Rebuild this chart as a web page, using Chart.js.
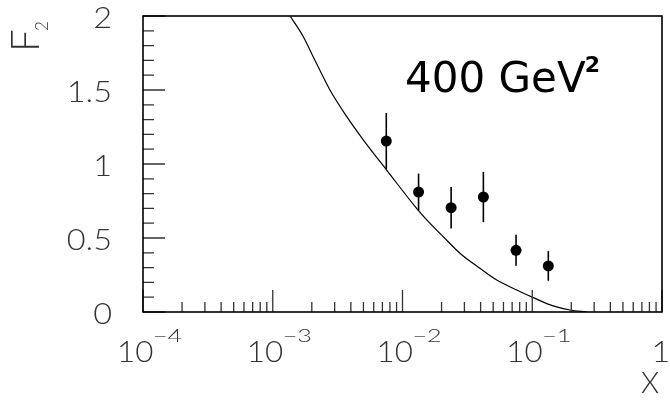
<!DOCTYPE html>
<html>
<head>
<meta charset="utf-8">
<script src="https://cdn.jsdelivr.net/npm/chart.js@4.4.1/dist/chart.umd.min.js"></script>
<style>
  body { margin: 0; background: #fff; }
  #wrap { width: 670px; height: 402px; }
</style>
</head>
<body>
<div id="wrap"><canvas id="f2chart" width="670" height="402"></canvas></div>
<script>
// measured points (x, F2) with symmetric errors
const xPoints = [0.0075, 0.0133, 0.0237, 0.042, 0.075, 0.133]
const f2Values = [1.155, 0.81, 0.705, 0.777, 0.417, 0.311]
const f2Errors = [0.19, 0.125, 0.14, 0.17, 0.105, 0.10]

// model curve
const curveX = [0.00136, 0.00172, 0.00205, 0.00276, 0.00372, 0.005, 0.00755, 0.01285, 0.01538, 0.0206, 0.0277, 0.0395, 0.0532, 0.0759, 0.102, 0.145, 0.195, 0.263]
const curveY = [2.0, 1.86, 1.725, 1.5, 1.32, 1.162, 0.959, 0.70, 0.622, 0.509, 0.397, 0.295, 0.216, 0.149, 0.097, 0.041, 0.0135, 0]

const yTicks = [0, 0.5, 1, 1.5, 2]
const yTickLabels = ['0', '0.5', '1', '1.5', '2']
const xDecades = [-4, -3, -2, -1, 0]

const labelFont = '300 29px Lato, "DejaVu Sans", sans-serif'
const expFont = '300 18px Lato, "DejaVu Sans", sans-serif'
const labelColor = '#333'

// the old plotting package draws wide glyphs, so stretch them a little
function wideText(ctx, text, x, y, align, sx) {
  const w = ctx.measureText(text).width * sx
  let left = x
  if (align === 'right') left = x - w
  else if (align === 'center') left = x - w / 2
  ctx.save()
  ctx.translate(left, y)
  ctx.scale(sx, 1)
  ctx.textAlign = 'left'
  ctx.fillText(text, 0, 0)
  ctx.restore()
}

const frame = {
  id: 'frame',
  beforeDatasetsDraw(chart) {
    const ctx = chart.ctx
    const xs = chart.scales.x, ys = chart.scales.y
    ctx.save()
    ctx.strokeStyle = '#000'
    ctx.lineWidth = 1.6
    for (let i = 0; i < xPoints.length; i++) {
      const px = xs.getPixelForValue(xPoints[i])
      ctx.beginPath()
      ctx.moveTo(px, ys.getPixelForValue(f2Values[i] + f2Errors[i]))
      ctx.lineTo(px, ys.getPixelForValue(f2Values[i] - f2Errors[i]))
      ctx.stroke()
    }
    ctx.restore()
  },
  afterDraw(chart) {
    const ctx = chart.ctx
    const a = chart.chartArea
    const xs = chart.scales.x, ys = chart.scales.y
    ctx.save()

    // ticks
    ctx.strokeStyle = '#333'
    ctx.lineWidth = 1.3
    ctx.beginPath()
    for (let v = 0; v <= 20; v++) {
      const py = ys.getPixelForValue(v / 10)
      const len = v % 5 === 0 ? 22 : 11
      ctx.moveTo(a.left, py)
      ctx.lineTo(a.left + len, py)
    }
    xDecades.forEach(d => {
      const px = xs.getPixelForValue(Math.pow(10, d))
      ctx.moveTo(px, a.bottom)
      ctx.lineTo(px, a.bottom - 22)
      if (d < 0) {
        for (let m = 2; m <= 9; m++) {
          const mx = xs.getPixelForValue(m * Math.pow(10, d))
          ctx.moveTo(mx, a.bottom)
          ctx.lineTo(mx, a.bottom - 10)
        }
      }
    })
    ctx.stroke()

    // frame
    ctx.strokeStyle = '#000'
    ctx.lineWidth = 1.6
    ctx.strokeRect(a.left, a.top, a.right - a.left, a.bottom - a.top)

    // y tick labels
    ctx.fillStyle = labelColor
    ctx.font = labelFont
    ctx.textBaseline = 'alphabetic'
    yTicks.forEach((v, i) => {
      wideText(ctx, yTickLabels[i], 112, ys.getPixelForValue(v) + 12, 'right', 1.12)
    })

    // x tick labels 10^n
    xDecades.forEach(d => {
      const px = xs.getPixelForValue(Math.pow(10, d))
      ctx.font = labelFont
      if (d === 0) {
        wideText(ctx, '1', px - 1, 362, 'center', 1.12)
        return
      }
      wideText(ctx, '10', px - 26, 362, 'left', 1.08)
      ctx.font = expFont
      wideText(ctx, '\u2212' + Math.abs(d), px + 10, 342, 'left', 1.4)
    })

    // axis titles
    ctx.font = labelFont
    wideText(ctx, 'X', 650, 393, 'center', 1.0)

    ctx.save()
    ctx.rotate(-Math.PI / 2)
    ctx.textAlign = 'left'
    ctx.textBaseline = 'alphabetic'
    ctx.font = '300 40px Lato, "DejaVu Sans", sans-serif'
    ctx.fillText('F', -52, 39)
    ctx.font = '300 17px Lato, "DejaVu Sans", sans-serif'
    ctx.fillText('2', -31, 48)
    ctx.restore()

    // scale annotation
    ctx.fillStyle = '#000'
    ctx.font = '42px "DejaVu Sans", sans-serif'
    ctx.textAlign = 'left'
    const main = '400 GeV'
    ctx.fillText(main, 405, 92)
    const w = ctx.measureText(main).width
    ctx.font = 'bold 22px "DejaVu Sans", sans-serif'
    ctx.fillText('2', 405 + w - 1, 72)

    ctx.restore()
  }
}

const ctx = document.getElementById('f2chart').getContext('2d')

new Chart(ctx, {
  type: 'scatter',
  data: {
    datasets: [
      {
        label: 'model',
        data: curveX.map((x, i) => ({ x: x, y: curveY[i] })),
        showLine: true,
        borderColor: '#000',
        borderWidth: 1.2,
        pointRadius: 0,
        cubicInterpolationMode: 'monotone',
        fill: false,
      },
      {
        label: 'data',
        data: xPoints.map((x, i) => ({ x: x, y: f2Values[i] })),
        pointRadius: 5.5,
        pointBackgroundColor: '#000',
        pointBorderColor: '#000',
        borderWidth: 0,
      },
    ],
  },
  options: {
    responsive: false,
    animation: false,
    layout: { padding: { left: 143, top: 16, right: 8, bottom: 90 } },
    plugins: { legend: { display: false }, tooltip: { enabled: false } },
    scales: {
      x: { type: 'logarithmic', min: 1e-4, max: 1, display: false },
      y: { type: 'linear', min: 0, max: 2, display: false },
    },
  },
  plugins: [frame],
})
</script>
</body>
</html>
